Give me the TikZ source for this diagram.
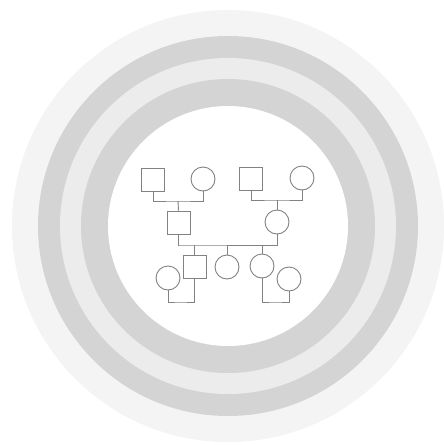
\documentclass[tikz,border=0pt]{standalone}
\usepackage{xcolor}
\usepackage{tikz}
\usetikzlibrary{positioning}
\definecolor{ringdk}{RGB}{212,212,212}
\definecolor{ringlt}{RGB}{236,236,236}
\definecolor{halo}{RGB}{244,244,244}
\definecolor{kin}{RGB}{130,130,130}
\tikzset{
  male/.style={draw=kin,line width=0.9pt,rectangle,minimum size=23pt,inner sep=0pt},
  female/.style={draw=kin,line width=0.9pt,circle,minimum size=24pt,inner sep=0pt},
  tie/.style={kin,line width=0.9pt}
}
\begin{document}
\begin{tikzpicture}[x=1pt,y=-1pt]
  \useasboundingbox (0,0) rectangle (444,445);
  \fill[white] (0,0) rectangle (444,445);
  % rings
  \coordinate (O) at (228,226);
  \fill[halo] (O) circle (216);
  \fill[ringdk] (O) circle (190); \fill[ringlt] (O) circle (168);
  \fill[ringdk] (O) circle (147); \fill[white] (O) circle (120);
  % grandparents
  \node[male] (gfa) at (153,180) {}; \node[female] (gma) at (203,179) {};
  \node[male] (gfb) at (251,179) {}; \node[female] (gmb) at (302,178) {};
  \coordinate (barA) at (178,201); \coordinate (barB) at (277,200);
  \draw[tie] (gfa.south) |- (barA) -| (gma.south);
  \draw[tie] (gfb.south) |- (barB) -| (gmb.south);
  % parents
  \node[male] (dad) at (178.5,222.5) {}; \node[female] (mum) at (277,222) {};
  \draw[tie] (barA) -- (dad.north); \draw[tie] (barB) -- (mum.north);
  \coordinate (barC) at (178,245);
  \draw[tie] (dad.south) |- (barC) -| (mum.south);
  % children
  \node[male] (son) at (194.5,266.5) {}; \node[female] (kid) at (227,267) {};
  \node[female] (girl) at (262,266) {};
  \foreach \c in {son,kid,girl} \draw[tie] (\c.north) -- (\c.north |- barC);
  % spouses
  \node[female] (wife) at (168,278) {}; \node[female] (inlaw) at (289,279) {};
  \coordinate (barD) at (180,302); \coordinate (barE) at (275,302);
  \draw[tie] (wife.south) |- (barD) -| (son.south);
  \draw[tie] (girl.south) |- (barE) -| (inlaw.south);
\end{tikzpicture}
\end{document}
